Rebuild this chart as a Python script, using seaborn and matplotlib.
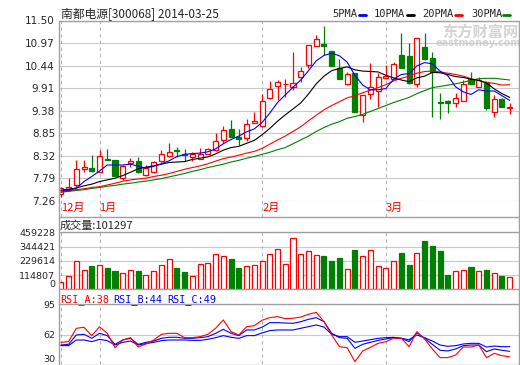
import numpy as np
import pandas as pd
import matplotlib.pyplot as plt
import seaborn as sns

sns.set_style("white")
plt.rcParams['font.family'] = ['DejaVu Sans', 'Noto Sans CJK SC']

# 南都电源 日K线 2013-12-25 ~ 2014-03-25
opens = [7.41, 7.53, 7.63, 8.01, 8.03, 7.93, 8.25, 8.21, 7.79, 8.15,
         8.19, 7.86, 7.93, 8.19, 8.31, 8.45, 8.37, 8.29, 8.25, 8.37,
         8.45, 8.69, 8.95, 8.76, 8.73, 9.10, 9.01, 9.68, 9.96, 10.00,
         9.94, 10.16, 10.45, 10.90, 10.95, 10.78, 10.39, 10.00, 10.26, 9.27,
         9.77, 9.84, 10.15, 10.12, 10.70, 10.66, 10.01, 10.87, 10.61, 9.59,
         9.61, 9.55, 9.61, 10.13, 9.94, 10.06, 9.35, 9.65, 9.45]
highs = [7.59, 7.79, 8.22, 8.22, 8.34, 8.45, 8.48, 8.22, 8.10, 8.26,
         8.28, 8.10, 8.20, 8.45, 8.61, 8.52, 8.47, 8.41, 8.49, 8.49,
         8.86, 9.02, 9.16, 8.94, 9.18, 9.34, 9.76, 10.08, 10.10, 10.12,
         10.76, 10.41, 10.93, 11.17, 11.38, 10.79, 10.59, 10.30, 10.27, 9.75,
         10.49, 10.27, 10.45, 10.53, 11.20, 10.96, 11.09, 11.21, 10.77, 9.80,
         9.62, 9.79, 10.10, 10.30, 10.18, 10.07, 9.75, 9.67, 9.55]
lows = [7.34, 7.50, 7.58, 7.94, 7.94, 7.93, 8.21, 7.83, 7.74, 8.06,
        7.92, 7.84, 7.91, 8.18, 8.29, 8.30, 8.19, 8.20, 8.24, 8.36,
        8.44, 8.62, 8.76, 8.57, 8.66, 9.08, 9.00, 9.66, 9.63, 9.71,
        9.86, 10.05, 10.38, 10.89, 10.70, 10.43, 10.12, 9.99, 9.34, 9.12,
        9.65, 9.47, 10.13, 10.11, 10.38, 10.01, 9.94, 10.58, 9.22, 9.18,
        9.33, 9.47, 9.60, 10.00, 9.93, 9.39, 9.24, 9.46, 9.29]
closes = [7.55, 7.58, 8.00, 8.06, 7.96, 8.30, 8.22, 7.84, 8.08, 8.19,
          7.94, 8.03, 8.17, 8.36, 8.41, 8.42, 8.34, 8.36, 8.37, 8.47,
          8.66, 8.92, 8.77, 8.71, 9.06, 9.13, 9.60, 9.88, 10.05, 10.01,
          10.04, 10.31, 10.92, 11.06, 10.89, 10.44, 10.13, 10.24, 9.35, 9.74,
          9.93, 10.16, 10.19, 10.47, 10.39, 10.02, 11.08, 10.59, 10.30, 9.57,
          9.55, 9.67, 10.00, 10.01, 10.10, 9.43, 9.65, 9.47, 9.46]
volumes = [56000, 105000, 226000, 153000, 188000, 196000, 172000, 148000, 129000, 153000,
           148000, 113000, 145000, 193000, 242000, 172000, 140000, 105000, 201000, 210000,
           282000, 266000, 244000, 172000, 185000, 193000, 226000, 282000, 322000, 204000,
           411000, 285000, 306000, 274000, 269000, 228000, 252000, 161000, 317000, 269000,
           314000, 188000, 169000, 226000, 293000, 196000, 293000, 389000, 349000, 309000,
           115000, 145000, 156000, 180000, 145000, 156000, 132000, 107000, 101297]

ma5 = [7.49, 7.50, 7.55, 7.71, 7.83, 7.96, 8.10, 8.10, 8.10, 8.12,
       8.07, 8.03, 8.07, 8.13, 8.20, 8.30, 8.35, 8.37, 8.38, 8.41,
       8.48, 8.60, 8.70, 8.78, 8.88, 8.95, 9.10, 9.32, 9.57, 9.75,
       9.93, 10.10, 10.32, 10.55, 10.68, 10.73, 10.67, 10.52, 10.21, 9.98,
       9.87, 9.87, 9.90, 10.12, 10.23, 10.25, 10.43, 10.51, 10.48, 10.31,
       10.20, 9.94, 9.82, 9.76, 9.87, 9.84, 9.84, 9.73, 9.62]
ma10 = [7.51, 7.53, 7.56, 7.61, 7.65, 7.71, 7.75, 7.79, 7.85, 7.93,
        8.01, 8.05, 8.08, 8.12, 8.16, 8.17, 8.18, 8.23, 8.26, 8.29,
        8.36, 8.45, 8.51, 8.54, 8.61, 8.68, 8.81, 8.96, 9.13, 9.28,
        9.42, 9.56, 9.77, 10.01, 10.19, 10.32, 10.37, 10.41, 10.34, 10.31,
        10.30, 10.29, 10.21, 10.15, 10.10, 10.06, 10.15, 10.19, 10.28, 10.27,
        10.23, 10.18, 10.16, 10.12, 10.09, 10.03, 9.89, 9.78, 9.69]
ma20 = [7.46, 7.49, 7.52, 7.54, 7.57, 7.59, 7.63, 7.67, 7.72, 7.75,
        7.77, 7.79, 7.83, 7.86, 7.90, 7.95, 8.00, 8.04, 8.08, 8.13,
        8.19, 8.25, 8.29, 8.33, 8.38, 8.42, 8.49, 8.59, 8.69, 8.78,
        8.89, 9.00, 9.14, 9.27, 9.40, 9.50, 9.59, 9.68, 9.73, 9.80,
        9.86, 9.92, 9.99, 10.08, 10.14, 10.19, 10.26, 10.30, 10.31, 10.29,
        10.26, 10.23, 10.19, 10.13, 10.09, 10.04, 10.02, 9.98, 9.99]
ma30 = [7.46, 7.48, 7.50, 7.52, 7.55, 7.57, 7.60, 7.62, 7.65, 7.67,
        7.70, 7.72, 7.75, 7.78, 7.82, 7.86, 7.90, 7.95, 7.99, 8.04,
        8.08, 8.12, 8.17, 8.21, 8.26, 8.30, 8.35, 8.40, 8.46, 8.51,
        8.60, 8.69, 8.78, 8.89, 8.98, 9.06, 9.12, 9.20, 9.24, 9.29,
        9.36, 9.43, 9.50, 9.57, 9.63, 9.69, 9.78, 9.85, 9.92, 9.95,
        9.98, 10.01, 10.05, 10.09, 10.13, 10.14, 10.14, 10.12, 10.10]

rsi_a = [53.7, 54.4, 68.8, 69.9, 60.8, 70.5, 63.4, 47.9, 56.2, 58.7,
         48.6, 51.9, 56.2, 62.3, 63.4, 63.4, 58.7, 58.7, 59.8, 62.3,
         68.8, 77.8, 65.2, 61.6, 70.5, 71.6, 77.5, 80.3, 81.4, 79.2,
         79.6, 81.0, 83.9, 86.0, 76.0, 61.6, 49.0, 47.9, 32.8, 44.3,
         48.3, 52.6, 54.4, 58.0, 58.0, 49.0, 65.2, 57.3, 46.5, 37.2,
         37.2, 40.0, 48.6, 48.6, 50.8, 37.2, 41.8, 39.3, 38.0]
rsi_b = [50.8, 51.5, 61.6, 62.3, 58.0, 63.4, 60.9, 51.5, 56.2, 58.0,
         51.5, 53.7, 55.1, 58.0, 59.1, 59.1, 58.0, 58.0, 58.7, 59.8,
         63.4, 67.7, 63.4, 60.9, 67.0, 67.0, 70.0, 74.9, 74.9, 74.5,
         74.2, 75.9, 78.5, 80.3, 75.9, 63.4, 58.7, 58.0, 47.2, 51.5,
         53.7, 55.8, 57.3, 58.7, 58.0, 54.4, 64.1, 58.0, 51.5, 45.1,
         44.4, 46.5, 50.1, 50.8, 50.8, 43.6, 46.5, 45.1, 44.0]
rsi_c = [50.1, 50.1, 56.2, 56.2, 54.4, 56.9, 55.5, 50.8, 53.7, 55.1,
         50.8, 52.3, 53.7, 55.5, 56.2, 56.2, 56.2, 55.8, 55.8, 56.9,
         58.7, 60.9, 59.1, 58.0, 60.9, 60.9, 63.8, 66.3, 67.0, 67.0,
         67.0, 68.8, 70.6, 72.4, 70.2, 62.3, 59.8, 59.8, 53.7, 55.1,
         56.5, 58.0, 58.7, 59.1, 58.0, 56.5, 61.6, 58.7, 55.1, 50.8,
         49.4, 50.1, 51.9, 52.6, 52.6, 48.6, 49.7, 49.0, 49.0]

month_pos = [0, 5, 26, 42]
month_labels = ['12月', '1月', '2月', '3月']
price_ticks = [7.26, 7.79, 8.32, 8.85, 9.38, 9.91, 10.44, 10.97, 11.50]
vol_ticks = [0, 114807, 229614, 344421, 459228]
rsi_ticks = [30, 62, 95]

df = pd.DataFrame({'i': np.arange(len(closes)), 'open': opens, 'high': highs,
                   'low': lows, 'close': closes, 'vol': volumes,
                   'ma5': ma5, 'ma10': ma10, 'ma20': ma20, 'ma30': ma30,
                   'rsi_a': rsi_a, 'rsi_b': rsi_b, 'rsi_c': rsi_c})

RED, GREEN, BLUE = '#ff0000', '#008000', '#0000ff'
FRAME, GRID, DASH = '#a0a0a0', '#cbcbcb', '#b4b4b4'
W, H = 520, 365


def box(x0, y0, x1, y1):
    return [x0 / W, 1 - y1 / H, (x1 - x0) / W, (y1 - y0) / H]


fig = plt.figure(figsize=(5.2, 3.65), dpi=100)

# background (watermark)
bg = fig.add_axes([0, 0, 1, 1])
bg.set_xlim(0, W)
bg.set_ylim(H, 0)
bg.axis('off')
bg.text(480, 31.5, '东方财富网', fontsize=11, color='#d4d4d4', ha='center', va='center',
        family=['Noto Sans CJK SC'], fontweight='bold')
bg.text(478, 43, 'eastmoney.com', fontsize=7, color='#d4d4d4', ha='center', va='center',
        fontweight='bold')

ax_p = fig.add_axes(box(58.5, 20.5, 519, 200.7))
ax_v = fig.add_axes(box(58.5, 232.3, 519, 289.3))
ax_r = fig.add_axes(box(58.5, 304, 519, 364.3))

up = df['close'] >= df['open']
edge = np.where(up, RED, GREEN)
face = np.where(up, 'white', GREEN)

for ax in (ax_p, ax_v, ax_r):
    ax.set_facecolor('none')
    for s in ax.spines.values():
        s.set_visible(False)
    ax.set_xlim(-0.3, 59.2)
    ax.tick_params(axis='both', length=0, pad=2.5, labelsize=6.8)
    ax.grid(axis='y', color=GRID, lw=0.8)
    ax.grid(axis='x', visible=False)

# price panel
ax_p.vlines(df['i'], df['low'], df['high'], colors=edge, lw=0.9, zorder=2)
ax_p.bar(df['i'], np.maximum((df['close'] - df['open']).abs(), 0.012),
         bottom=np.minimum(df['open'], df['close']), width=0.65,
         color=face, edgecolor=edge, linewidth=0.9, zorder=3)
for col, c in [('ma30', GREEN), ('ma20', RED), ('ma10', 'black'), ('ma5', BLUE)]:
    sns.lineplot(data=df, x='i', y=col, ax=ax_p, color=c, lw=0.8, zorder=4)
ax_p.set_ylim(7.26, 11.50)
ax_p.set_yticks(price_ticks)
ax_p.set_yticklabels([f'{t:.2f}' for t in price_ticks], fontsize=7.5)
ax_p.set_xticks(month_pos)
ax_p.set_xticklabels(month_labels, color=RED, fontsize=8, ha='left',
                     family=['Noto Sans CJK SC'])
ax_p.tick_params(axis='x', pad=1.5)
for p in month_pos:
    ax_p.axvline(p, ymin=-0.092, ymax=1, clip_on=False, color=DASH, lw=0.8,
                 ls=(0, (3, 3)), zorder=1)

# volume panel
ax_v.bar(df['i'], df['vol'], width=0.65, color=face, edgecolor=edge, linewidth=0.9, zorder=3)
ax_v.set_ylim(0, 459228)
ax_v.set_yticks(vol_ticks)
ax_v.set_yticklabels([str(t) for t in vol_ticks])
ax_v.yaxis.get_major_ticks()[0].label1.set_verticalalignment('bottom')
ax_v.set_xticks([])
for p in month_pos:
    ax_v.axvline(p, color=DASH, lw=0.8, ls=(0, (3, 3)), zorder=1)

# RSI panel
for col, c in [('rsi_c', BLUE), ('rsi_b', BLUE), ('rsi_a', RED)]:
    sns.lineplot(data=df, x='i', y=col, ax=ax_r, color=c, lw=0.8, zorder=4)
ax_r.set_ylim(30, 95)
ax_r.set_yticks(rsi_ticks)
ax_r.set_yticklabels([str(t) for t in rsi_ticks])
ax_r.yaxis.get_major_ticks()[0].label1.set_verticalalignment('bottom')
ax_r.set_xticks([])
for p in month_pos:
    ax_r.axvline(p, color=DASH, lw=0.8, ls=(0, (3, 3)), zorder=1)

for ax in (ax_p, ax_v, ax_r):
    ax.set_xlabel('')
    ax.set_ylabel('')

# frame, title and legends
ov = fig.add_axes([0, 0, 1, 1], zorder=10)
ov.set_xlim(0, W)
ov.set_ylim(H, 0)
ov.axis('off')
ov.plot([58.5, 58.5], [20.5, 364.5], color=FRAME, lw=1)
ov.plot([519, 519], [20.5, 364.5], color=FRAME, lw=1)
for yy in [20.5, 217.3, 232.3, 289.3, 304, 364.5]:
    ov.plot([58.5, 519], [yy, yy], color=FRAME, lw=1)

ov.text(61, 14, '南都电源[300068] 2014-03-25', fontsize=8.5, va='center', ha='left',
        family=['Noto Sans CJK SC', 'DejaVu Sans'])
for name, c, tx, lx in [('5PMA', BLUE, 332, 359), ('10PMA', 'black', 374, 407),
                        ('20PMA', RED, 422, 455), ('30PMA', GREEN, 471, 503)]:
    ov.text(tx, 14, name, fontsize=7.5, va='center', ha='left', family='DejaVu Sans Mono')
    ov.plot([lx, lx + 7], [14.5, 14.5], color=c, lw=2)

ov.text(59.5, 225.5, '成交量:101297', fontsize=8, va='center', ha='left',
        family=['Noto Sans CJK SC', 'DejaVu Sans'])
for name, c, tx in [('RSI_A:38', RED, 60), ('RSI_B:44', BLUE, 113), ('RSI_C:49', BLUE, 167)]:
    ov.text(tx, 299.5, name, fontsize=7.3, color=c, va='center', ha='left',
            family='DejaVu Sans Mono')

fig.savefig('out.png', dpi=100)
